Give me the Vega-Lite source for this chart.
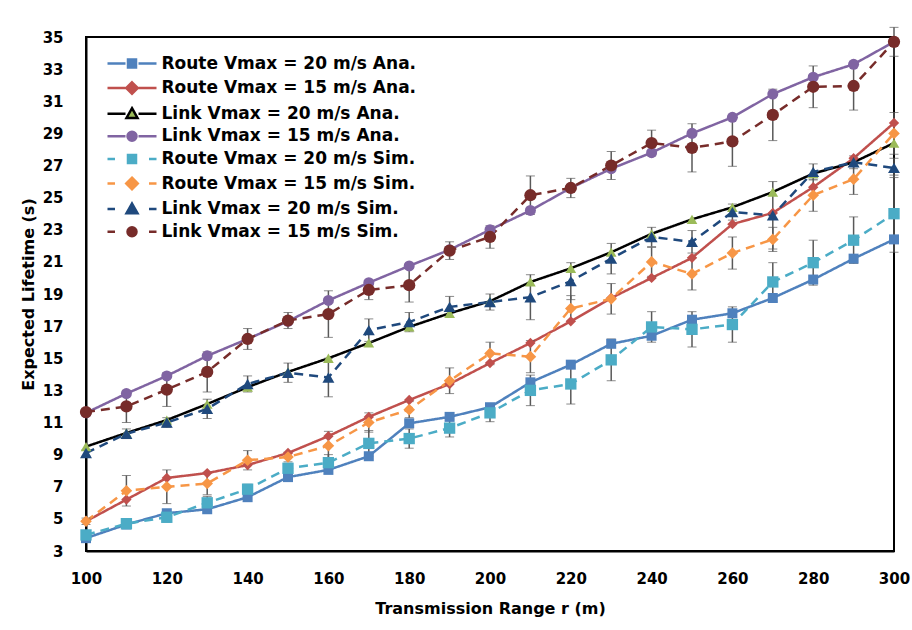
{
  "$schema": "https://vega.github.io/schema/vega-lite/v6.json",
  "width": 808,
  "height": 514,
  "autosize": {"type": "none"},
  "padding": {"left": 86, "top": 37, "right": 18, "bottom": 79},
  "background": "white",
  "config": {
    "view": {"stroke": "black", "strokeWidth": 2},
    "axis": {
      "domainColor": "black", "domainWidth": 2, "grid": false, "ticks": false,
      "labelFont": "DejaVu Sans", "labelFontWeight": "bold", "labelFontSize": 15, "labelColor": "black",
      "titleFont": "DejaVu Sans", "titleFontWeight": "bold", "titleFontSize": 16, "titleColor": "black"
    },
    "legend": {
      "title": null, "orient": "none", "legendX": 12.5, "legendY": 18, "padding": 0,
      "symbolSize": 100, "symbolOffset": 25, "labelOffset": 21,
      "labelFont": "DejaVu Sans", "labelFontWeight": "bold", "labelFontSize": 17, "labelColor": "black",
      "labelLimit": 400, "rowPadding": 3.6, "symbolStrokeWidth": 2.5, "symbolOpacity": 1
    }
  },
  "resolve": {"scale": {"fill": "independent", "stroke": "independent", "shape": "independent", "size": "independent", "strokeDash": "independent"}},
  "data": {
    "values": [
      {"r": 100, "series": "Route  Vmax = 20 m/s  Ana.", "value": 3.8},
      {"r": 110, "series": "Route  Vmax = 20 m/s  Ana.", "value": 4.65},
      {"r": 120, "series": "Route  Vmax = 20 m/s  Ana.", "value": 5.35},
      {"r": 130, "series": "Route  Vmax = 20 m/s  Ana.", "value": 5.6},
      {"r": 140, "series": "Route  Vmax = 20 m/s  Ana.", "value": 6.35},
      {"r": 150, "series": "Route  Vmax = 20 m/s  Ana.", "value": 7.6},
      {"r": 160, "series": "Route  Vmax = 20 m/s  Ana.", "value": 8.05},
      {"r": 170, "series": "Route  Vmax = 20 m/s  Ana.", "value": 8.9},
      {"r": 180, "series": "Route  Vmax = 20 m/s  Ana.", "value": 10.95},
      {"r": 190, "series": "Route  Vmax = 20 m/s  Ana.", "value": 11.35},
      {"r": 200, "series": "Route  Vmax = 20 m/s  Ana.", "value": 11.95},
      {"r": 210, "series": "Route  Vmax = 20 m/s  Ana.", "value": 13.5},
      {"r": 220, "series": "Route  Vmax = 20 m/s  Ana.", "value": 14.6},
      {"r": 230, "series": "Route  Vmax = 20 m/s  Ana.", "value": 15.9},
      {"r": 240, "series": "Route  Vmax = 20 m/s  Ana.", "value": 16.4},
      {"r": 250, "series": "Route  Vmax = 20 m/s  Ana.", "value": 17.4},
      {"r": 260, "series": "Route  Vmax = 20 m/s  Ana.", "value": 17.8},
      {"r": 270, "series": "Route  Vmax = 20 m/s  Ana.", "value": 18.75},
      {"r": 280, "series": "Route  Vmax = 20 m/s  Ana.", "value": 19.9},
      {"r": 290, "series": "Route  Vmax = 20 m/s  Ana.", "value": 21.2},
      {"r": 300, "series": "Route  Vmax = 20 m/s  Ana.", "value": 22.4},

      {"r": 100, "series": "Route  Vmax = 15 m/s  Ana.", "value": 4.85},
      {"r": 110, "series": "Route  Vmax = 15 m/s  Ana.", "value": 6.2},
      {"r": 120, "series": "Route  Vmax = 15 m/s  Ana.", "value": 7.55},
      {"r": 130, "series": "Route  Vmax = 15 m/s  Ana.", "value": 7.85},
      {"r": 140, "series": "Route  Vmax = 15 m/s  Ana.", "value": 8.35},
      {"r": 150, "series": "Route  Vmax = 15 m/s  Ana.", "value": 9.1},
      {"r": 160, "series": "Route  Vmax = 15 m/s  Ana.", "value": 10.15},
      {"r": 170, "series": "Route  Vmax = 15 m/s  Ana.", "value": 11.35},
      {"r": 180, "series": "Route  Vmax = 15 m/s  Ana.", "value": 12.4},
      {"r": 190, "series": "Route  Vmax = 15 m/s  Ana.", "value": 13.4},
      {"r": 200, "series": "Route  Vmax = 15 m/s  Ana.", "value": 14.7},
      {"r": 210, "series": "Route  Vmax = 15 m/s  Ana.", "value": 15.95},
      {"r": 220, "series": "Route  Vmax = 15 m/s  Ana.", "value": 17.3},
      {"r": 230, "series": "Route  Vmax = 15 m/s  Ana.", "value": 18.75},
      {"r": 240, "series": "Route  Vmax = 15 m/s  Ana.", "value": 20.0},
      {"r": 250, "series": "Route  Vmax = 15 m/s  Ana.", "value": 21.25},
      {"r": 260, "series": "Route  Vmax = 15 m/s  Ana.", "value": 23.35},
      {"r": 270, "series": "Route  Vmax = 15 m/s  Ana.", "value": 24.05},
      {"r": 280, "series": "Route  Vmax = 15 m/s  Ana.", "value": 25.65},
      {"r": 290, "series": "Route  Vmax = 15 m/s  Ana.", "value": 27.45},
      {"r": 300, "series": "Route  Vmax = 15 m/s  Ana.", "value": 29.65},

      {"r": 100, "series": "Link  Vmax = 20 m/s  Ana.", "value": 9.5},
      {"r": 110, "series": "Link  Vmax = 20 m/s  Ana.", "value": 10.35},
      {"r": 120, "series": "Link  Vmax = 20 m/s  Ana.", "value": 11.15},
      {"r": 130, "series": "Link  Vmax = 20 m/s  Ana.", "value": 12.15},
      {"r": 140, "series": "Link  Vmax = 20 m/s  Ana.", "value": 13.2},
      {"r": 150, "series": "Link  Vmax = 20 m/s  Ana.", "value": 14.15},
      {"r": 160, "series": "Link  Vmax = 20 m/s  Ana.", "value": 15.0},
      {"r": 170, "series": "Link  Vmax = 20 m/s  Ana.", "value": 15.95},
      {"r": 180, "series": "Link  Vmax = 20 m/s  Ana.", "value": 16.95},
      {"r": 190, "series": "Link  Vmax = 20 m/s  Ana.", "value": 17.8},
      {"r": 200, "series": "Link  Vmax = 20 m/s  Ana.", "value": 18.55},
      {"r": 210, "series": "Link  Vmax = 20 m/s  Ana.", "value": 19.75},
      {"r": 220, "series": "Link  Vmax = 20 m/s  Ana.", "value": 20.6},
      {"r": 230, "series": "Link  Vmax = 20 m/s  Ana.", "value": 21.6},
      {"r": 240, "series": "Link  Vmax = 20 m/s  Ana.", "value": 22.75},
      {"r": 250, "series": "Link  Vmax = 20 m/s  Ana.", "value": 23.65},
      {"r": 260, "series": "Link  Vmax = 20 m/s  Ana.", "value": 24.4},
      {"r": 270, "series": "Link  Vmax = 20 m/s  Ana.", "value": 25.35},
      {"r": 280, "series": "Link  Vmax = 20 m/s  Ana.", "value": 26.5},
      {"r": 290, "series": "Link  Vmax = 20 m/s  Ana.", "value": 27.2},
      {"r": 300, "series": "Link  Vmax = 20 m/s  Ana.", "value": 28.4},

      {"r": 100, "series": "Link  Vmax = 15 m/s  Ana.", "value": 11.6},
      {"r": 110, "series": "Link  Vmax = 15 m/s  Ana.", "value": 12.8},
      {"r": 120, "series": "Link  Vmax = 15 m/s  Ana.", "value": 13.9},
      {"r": 130, "series": "Link  Vmax = 15 m/s  Ana.", "value": 15.15},
      {"r": 140, "series": "Link  Vmax = 15 m/s  Ana.", "value": 16.2},
      {"r": 150, "series": "Link  Vmax = 15 m/s  Ana.", "value": 17.3},
      {"r": 160, "series": "Link  Vmax = 15 m/s  Ana.", "value": 18.6},
      {"r": 170, "series": "Link  Vmax = 15 m/s  Ana.", "value": 19.7},
      {"r": 180, "series": "Link  Vmax = 15 m/s  Ana.", "value": 20.75},
      {"r": 190, "series": "Link  Vmax = 15 m/s  Ana.", "value": 21.75},
      {"r": 200, "series": "Link  Vmax = 15 m/s  Ana.", "value": 23.0},
      {"r": 210, "series": "Link  Vmax = 15 m/s  Ana.", "value": 24.2},
      {"r": 220, "series": "Link  Vmax = 15 m/s  Ana.", "value": 25.6},
      {"r": 230, "series": "Link  Vmax = 15 m/s  Ana.", "value": 26.8},
      {"r": 240, "series": "Link  Vmax = 15 m/s  Ana.", "value": 27.8},
      {"r": 250, "series": "Link  Vmax = 15 m/s  Ana.", "value": 29.0},
      {"r": 260, "series": "Link  Vmax = 15 m/s  Ana.", "value": 30.0},
      {"r": 270, "series": "Link  Vmax = 15 m/s  Ana.", "value": 31.45},
      {"r": 280, "series": "Link  Vmax = 15 m/s  Ana.", "value": 32.5},
      {"r": 290, "series": "Link  Vmax = 15 m/s  Ana.", "value": 33.3},
      {"r": 300, "series": "Link  Vmax = 15 m/s  Ana.", "value": 34.7},

      {"r": 100, "series": "Route  Vmax = 20 m/s  Sim.", "value": 4.0, "err": 0.2},
      {"r": 110, "series": "Route  Vmax = 20 m/s  Sim.", "value": 4.7, "err": 0.2},
      {"r": 120, "series": "Route  Vmax = 20 m/s  Sim.", "value": 5.1, "err": 0.3},
      {"r": 130, "series": "Route  Vmax = 20 m/s  Sim.", "value": 6.0, "err": 0.4},
      {"r": 140, "series": "Route  Vmax = 20 m/s  Sim.", "value": 6.85, "err": 0.3},
      {"r": 150, "series": "Route  Vmax = 20 m/s  Sim.", "value": 8.15, "err": 0.3},
      {"r": 160, "series": "Route  Vmax = 20 m/s  Sim.", "value": 8.5, "err": 0.5},
      {"r": 170, "series": "Route  Vmax = 20 m/s  Sim.", "value": 9.7, "err": 0.8},
      {"r": 180, "series": "Route  Vmax = 20 m/s  Sim.", "value": 10.0, "err": 0.6},
      {"r": 190, "series": "Route  Vmax = 20 m/s  Sim.", "value": 10.65, "err": 0.55},
      {"r": 200, "series": "Route  Vmax = 20 m/s  Sim.", "value": 11.6, "err": 0.55},
      {"r": 210, "series": "Route  Vmax = 20 m/s  Sim.", "value": 13.0, "err": 0.95},
      {"r": 220, "series": "Route  Vmax = 20 m/s  Sim.", "value": 13.4, "err": 1.25},
      {"r": 230, "series": "Route  Vmax = 20 m/s  Sim.", "value": 14.9, "err": 1.3},
      {"r": 240, "series": "Route  Vmax = 20 m/s  Sim.", "value": 16.95, "err": 0.95},
      {"r": 250, "series": "Route  Vmax = 20 m/s  Sim.", "value": 16.8, "err": 1.1},
      {"r": 260, "series": "Route  Vmax = 20 m/s  Sim.", "value": 17.1, "err": 1.1},
      {"r": 270, "series": "Route  Vmax = 20 m/s  Sim.", "value": 19.75, "err": 1.2},
      {"r": 280, "series": "Route  Vmax = 20 m/s  Sim.", "value": 20.95, "err": 1.4},
      {"r": 290, "series": "Route  Vmax = 20 m/s  Sim.", "value": 22.35, "err": 1.45},
      {"r": 300, "series": "Route  Vmax = 20 m/s  Sim.", "value": 24.0, "err": 2.4},

      {"r": 100, "series": "Route  Vmax = 15 m/s Sim.", "value": 4.85, "err": 0.2},
      {"r": 110, "series": "Route  Vmax = 15 m/s Sim.", "value": 6.75, "err": 0.95},
      {"r": 120, "series": "Route  Vmax = 15 m/s Sim.", "value": 7.0, "err": 1.05},
      {"r": 130, "series": "Route  Vmax = 15 m/s Sim.", "value": 7.2, "err": 0.7},
      {"r": 140, "series": "Route  Vmax = 15 m/s Sim.", "value": 8.65, "err": 0.6},
      {"r": 150, "series": "Route  Vmax = 15 m/s Sim.", "value": 8.85, "err": 0.3},
      {"r": 160, "series": "Route  Vmax = 15 m/s Sim.", "value": 9.55, "err": 0.9},
      {"r": 170, "series": "Route  Vmax = 15 m/s Sim.", "value": 11.0, "err": 0.6},
      {"r": 180, "series": "Route  Vmax = 15 m/s Sim.", "value": 11.8, "err": 0.5},
      {"r": 190, "series": "Route  Vmax = 15 m/s Sim.", "value": 13.6, "err": 0.8},
      {"r": 200, "series": "Route  Vmax = 15 m/s Sim.", "value": 15.3, "err": 0.7},
      {"r": 210, "series": "Route  Vmax = 15 m/s Sim.", "value": 15.1, "err": 1.0},
      {"r": 220, "series": "Route  Vmax = 15 m/s Sim.", "value": 18.1, "err": 0.8},
      {"r": 230, "series": "Route  Vmax = 15 m/s Sim.", "value": 18.7, "err": 0.95},
      {"r": 240, "series": "Route  Vmax = 15 m/s Sim.", "value": 21.0, "err": 0.9},
      {"r": 250, "series": "Route  Vmax = 15 m/s Sim.", "value": 20.25, "err": 1.0},
      {"r": 260, "series": "Route  Vmax = 15 m/s Sim.", "value": 21.55, "err": 1.0},
      {"r": 270, "series": "Route  Vmax = 15 m/s Sim.", "value": 22.4, "err": 0.75},
      {"r": 280, "series": "Route  Vmax = 15 m/s Sim.", "value": 25.15, "err": 1.0},
      {"r": 290, "series": "Route  Vmax = 15 m/s Sim.", "value": 26.15, "err": 0.95},
      {"r": 300, "series": "Route  Vmax = 15 m/s Sim.", "value": 29.0, "err": 1.3},

      {"r": 100, "series": "Link  Vmax = 20 m/s  Sim.", "value": 9.1, "err": 0.2},
      {"r": 110, "series": "Link  Vmax = 20 m/s  Sim.", "value": 10.3, "err": 0.3},
      {"r": 120, "series": "Link  Vmax = 20 m/s  Sim.", "value": 11.0, "err": 0.3},
      {"r": 130, "series": "Link  Vmax = 20 m/s  Sim.", "value": 11.85, "err": 0.6},
      {"r": 140, "series": "Link  Vmax = 20 m/s  Sim.", "value": 13.4, "err": 0.5},
      {"r": 150, "series": "Link  Vmax = 20 m/s  Sim.", "value": 14.1, "err": 0.6},
      {"r": 160, "series": "Link  Vmax = 20 m/s  Sim.", "value": 13.8, "err": 1.2},
      {"r": 170, "series": "Link  Vmax = 20 m/s  Sim.", "value": 16.75, "err": 0.7},
      {"r": 180, "series": "Link  Vmax = 20 m/s  Sim.", "value": 17.25, "err": 0.6},
      {"r": 190, "series": "Link  Vmax = 20 m/s  Sim.", "value": 18.2, "err": 0.65},
      {"r": 200, "series": "Link  Vmax = 20 m/s  Sim.", "value": 18.5, "err": 0.5},
      {"r": 210, "series": "Link  Vmax = 20 m/s  Sim.", "value": 18.8, "err": 1.4},
      {"r": 220, "series": "Link  Vmax = 20 m/s  Sim.", "value": 19.8, "err": 1.15},
      {"r": 230, "series": "Link  Vmax = 20 m/s  Sim.", "value": 21.2, "err": 0.95},
      {"r": 240, "series": "Link  Vmax = 20 m/s  Sim.", "value": 22.55, "err": 0.6},
      {"r": 250, "series": "Link  Vmax = 20 m/s  Sim.", "value": 22.25, "err": 0.7},
      {"r": 260, "series": "Link  Vmax = 20 m/s  Sim.", "value": 24.1, "err": 0.5},
      {"r": 270, "series": "Link  Vmax = 20 m/s  Sim.", "value": 23.9, "err": 2.1},
      {"r": 280, "series": "Link  Vmax = 20 m/s  Sim.", "value": 26.6, "err": 0.5},
      {"r": 290, "series": "Link  Vmax = 20 m/s  Sim.", "value": 27.2, "err": 0.4},
      {"r": 300, "series": "Link  Vmax = 20 m/s  Sim.", "value": 26.85, "err": 0.6},

      {"r": 100, "series": "Link  Vmax = 15 m/s  Sim.", "value": 11.65, "err": 0.2},
      {"r": 110, "series": "Link  Vmax = 15 m/s  Sim.", "value": 12.0, "err": 1.0},
      {"r": 120, "series": "Link  Vmax = 15 m/s  Sim.", "value": 13.05, "err": 1.05},
      {"r": 130, "series": "Link  Vmax = 15 m/s  Sim.", "value": 14.15, "err": 1.25},
      {"r": 140, "series": "Link  Vmax = 15 m/s  Sim.", "value": 16.2, "err": 0.65},
      {"r": 150, "series": "Link  Vmax = 15 m/s  Sim.", "value": 17.35, "err": 0.5},
      {"r": 160, "series": "Link  Vmax = 15 m/s  Sim.", "value": 17.75, "err": 1.45},
      {"r": 170, "series": "Link  Vmax = 15 m/s  Sim.", "value": 19.25, "err": 0.6},
      {"r": 180, "series": "Link  Vmax = 15 m/s  Sim.", "value": 19.55, "err": 1.05},
      {"r": 190, "series": "Link  Vmax = 15 m/s  Sim.", "value": 21.7, "err": 0.55},
      {"r": 200, "series": "Link  Vmax = 15 m/s  Sim.", "value": 22.55, "err": 0.7},
      {"r": 210, "series": "Link  Vmax = 15 m/s  Sim.", "value": 25.15, "err": 1.2},
      {"r": 220, "series": "Link  Vmax = 15 m/s  Sim.", "value": 25.6, "err": 0.6},
      {"r": 230, "series": "Link  Vmax = 15 m/s  Sim.", "value": 27.0, "err": 0.87},
      {"r": 240, "series": "Link  Vmax = 15 m/s  Sim.", "value": 28.4, "err": 0.8},
      {"r": 250, "series": "Link  Vmax = 15 m/s  Sim.", "value": 28.1, "err": 1.5},
      {"r": 260, "series": "Link  Vmax = 15 m/s  Sim.", "value": 28.5, "err": 1.55},
      {"r": 270, "series": "Link  Vmax = 15 m/s  Sim.", "value": 30.15, "err": 1.6},
      {"r": 280, "series": "Link  Vmax = 15 m/s  Sim.", "value": 31.9, "err": 1.3},
      {"r": 290, "series": "Link  Vmax = 15 m/s  Sim.", "value": 31.95, "err": 1.5},
      {"r": 300, "series": "Link  Vmax = 15 m/s  Sim.", "value": 34.7, "err": 0.9}
    ]
  },
  "encoding": {
    "x": {
      "field": "r",
      "type": "quantitative",
      "title": "Transmission Range r (m)",
      "scale": {"domain": [100, 300], "nice": false, "zero": false},
      "axis": {"values": [100, 120, 140, 160, 180, 200, 220, 240, 260, 280, 300], "labelPadding": 20, "titlePadding": 14, "labelFlush": false}
    },
    "y": {
      "field": "value",
      "type": "quantitative",
      "title": "Expected Lifetime (s)",
      "scale": {"domain": [3, 35], "nice": false, "zero": false},
      "axis": {"values": [3, 5, 7, 9, 11, 13, 15, 17, 19, 21, 23, 25, 27, 29, 31, 33, 35], "labelPadding": 23, "titlePadding": 6, "labelFlush": false}
    }
  },
  "layer": [
    {
      "mark": {"type": "line", "strokeWidth": 2.5},
      "encoding": {
        "stroke": {
          "field": "series",
          "type": "nominal",
          "scale": {
            "domain": ["Route  Vmax = 20 m/s  Ana.", "Route  Vmax = 15 m/s  Ana.", "Link  Vmax = 20 m/s  Ana.", "Link  Vmax = 15 m/s  Ana.", "Route  Vmax = 20 m/s  Sim.", "Route  Vmax = 15 m/s Sim.", "Link  Vmax = 20 m/s  Sim.", "Link  Vmax = 15 m/s  Sim."],
            "range": ["#4F81BD", "#C0504D", "#000000", "#8064A2", "#4BACC6", "#F79646", "#1F497D", "#772C2A"]
          },
          "legend": null
        },
        "strokeDash": {
          "field": "series",
          "type": "nominal",
          "scale": {
            "domain": ["Route  Vmax = 20 m/s  Ana.", "Route  Vmax = 15 m/s  Ana.", "Link  Vmax = 20 m/s  Ana.", "Link  Vmax = 15 m/s  Ana.", "Route  Vmax = 20 m/s  Sim.", "Route  Vmax = 15 m/s Sim.", "Link  Vmax = 20 m/s  Sim.", "Link  Vmax = 15 m/s  Sim."],
            "range": [[1, 0], [1, 0], [1, 0], [1, 0], [9, 6], [9, 6], [9, 6], [9, 6]]
          },
          "legend": null
        }
      }
    },
    {
      "transform": [{"filter": "isValid(datum.err)"}],
      "mark": {
        "type": "errorbar",
        "ticks": {"size": 9, "color": "#595959", "strokeWidth": 1.5},
        "rule": {"color": "#595959", "strokeWidth": 1.5}
      },
      "encoding": {
        "yError": {"field": "err"}
      }
    },
    {
      "mark": {"type": "point", "filled": true, "opacity": 1, "strokeWidth": 0},
      "encoding": {
        "fill": {
          "field": "series",
          "type": "nominal",
          "scale": {
            "domain": ["Route  Vmax = 20 m/s  Ana.", "Route  Vmax = 15 m/s  Ana.", "Link  Vmax = 20 m/s  Ana.", "Link  Vmax = 15 m/s  Ana.", "Route  Vmax = 20 m/s  Sim.", "Route  Vmax = 15 m/s Sim.", "Link  Vmax = 20 m/s  Sim.", "Link  Vmax = 15 m/s  Sim."],
            "range": ["#4F81BD", "#C0504D", "#9BBB59", "#8064A2", "#4BACC6", "#F79646", "#1F497D", "#772C2A"]
          },
          "legend": null
        },
        "shape": {
          "field": "series",
          "type": "nominal",
          "scale": {
            "domain": ["Route  Vmax = 20 m/s  Ana.", "Route  Vmax = 15 m/s  Ana.", "Link  Vmax = 20 m/s  Ana.", "Link  Vmax = 15 m/s  Ana.", "Route  Vmax = 20 m/s  Sim.", "Route  Vmax = 15 m/s Sim.", "Link  Vmax = 20 m/s  Sim.", "Link  Vmax = 15 m/s  Sim."],
            "range": ["square", "diamond", "triangle-up", "circle", "square", "diamond", "triangle-up", "circle"]
          },
          "legend": null
        },
        "size": {
          "field": "series",
          "type": "nominal",
          "scale": {
            "domain": ["Route  Vmax = 20 m/s  Ana.", "Route  Vmax = 15 m/s  Ana.", "Link  Vmax = 20 m/s  Ana.", "Link  Vmax = 15 m/s  Ana.", "Route  Vmax = 20 m/s  Sim.", "Route  Vmax = 15 m/s Sim.", "Link  Vmax = 20 m/s  Sim.", "Link  Vmax = 15 m/s  Sim."],
            "range": [100, 150, 160, 115, 100, 150, 160, 115]
          },
          "legend": null
        }
      }
    },
    {
      "transform": [{"filter": "datum.r < 0"}],
      "mark": {"type": "point", "filled": true, "opacity": 1, "strokeWidth": 2.5},
      "encoding": {
        "fill": {
          "field": "series",
          "type": "nominal",
          "scale": {
            "domain": ["Route  Vmax = 20 m/s  Ana.", "Route  Vmax = 15 m/s  Ana.", "Link  Vmax = 20 m/s  Ana.", "Link  Vmax = 15 m/s  Ana.", "Route  Vmax = 20 m/s  Sim.", "Route  Vmax = 15 m/s Sim.", "Link  Vmax = 20 m/s  Sim.", "Link  Vmax = 15 m/s  Sim."],
            "range": ["#4F81BD", "#C0504D", "#9BBB59", "#8064A2", "#4BACC6", "#F79646", "#1F497D", "#772C2A"]
          }
        },
        "stroke": {
          "field": "series",
          "type": "nominal",
          "scale": {
            "domain": ["Route  Vmax = 20 m/s  Ana.", "Route  Vmax = 15 m/s  Ana.", "Link  Vmax = 20 m/s  Ana.", "Link  Vmax = 15 m/s  Ana.", "Route  Vmax = 20 m/s  Sim.", "Route  Vmax = 15 m/s Sim.", "Link  Vmax = 20 m/s  Sim.", "Link  Vmax = 15 m/s  Sim."],
            "range": ["#4F81BD", "#C0504D", "#000000", "#8064A2", "#4BACC6", "#F79646", "#1F497D", "#772C2A"]
          }
        },
        "shape": {
          "field": "series",
          "type": "nominal",
          "scale": {
            "domain": ["Route  Vmax = 20 m/s  Ana.", "Route  Vmax = 15 m/s  Ana.", "Link  Vmax = 20 m/s  Ana.", "Link  Vmax = 15 m/s  Ana.", "Route  Vmax = 20 m/s  Sim.", "Route  Vmax = 15 m/s Sim.", "Link  Vmax = 20 m/s  Sim.", "Link  Vmax = 15 m/s  Sim."],
            "range": [
              "M-4.9,0H-1.3M1.3,0H4.9M-0.8,-0.8H0.8V0.8H-0.8Z",
              "M-4.9,0H-1.3M1.3,0H4.9M0,-1.15L1.15,0L0,1.15L-1.15,0Z",
              "M-4.9,0H-1.3M1.3,0H4.9M0,-1.1L1.1,0.85L-1.1,0.85Z",
              "M-4.9,0H-1.3M1.3,0H4.9M0.9,0A0.9,0.9,0,1,1,-0.9,0A0.9,0.9,0,1,1,0.9,0Z",
              "M-4.9,0H-3.4M3.4,0H4.9M-0.8,-0.8H0.8V0.8H-0.8Z",
              "M-4.9,0H-3.4M3.4,0H4.9M0,-1.15L1.15,0L0,1.15L-1.15,0Z",
              "M-4.9,0H-3.4M3.4,0H4.9M0,-1.1L1.1,0.85L-1.1,0.85Z",
              "M-4.9,0H-3.4M3.4,0H4.9M0.9,0A0.9,0.9,0,1,1,-0.9,0A0.9,0.9,0,1,1,0.9,0Z"
            ]
          }
        }
      }
    }
  ]
}
